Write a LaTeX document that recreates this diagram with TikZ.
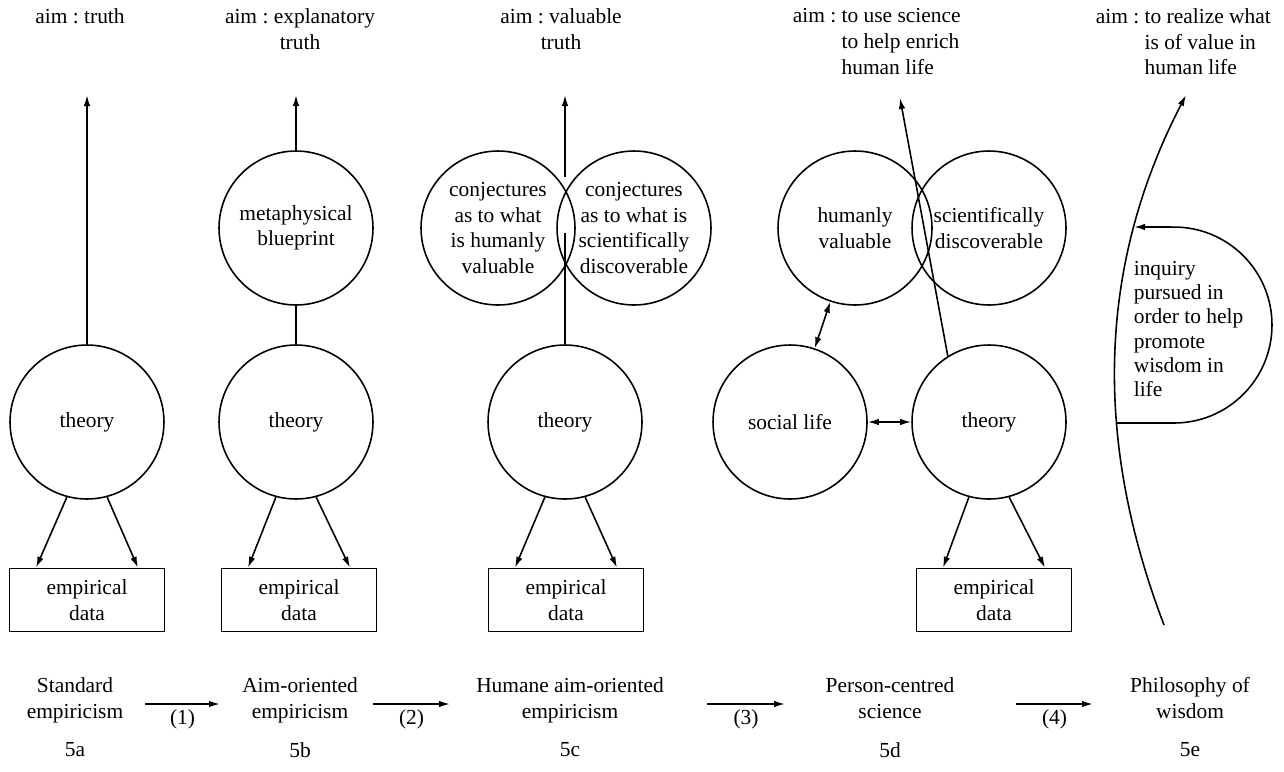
\documentclass[tikz,border=0pt]{standalone}
\usepackage{fontspec}
\setmainfont{Liberation Serif}
\usetikzlibrary{arrows.meta}

\begin{document}
\frenchspacing
\begin{tikzpicture}[x=0.02cm, y=-0.02cm, line width=0.9pt, >={Latex[length=2.2mm,width=1.3mm]},
    font=\fontsize{12.2}{14.6}\selectfont,
    ball/.style={draw, circle, minimum size=3.08cm, inner sep=0pt, align=center},
    databox/.style={draw, minimum width=3.1cm, minimum height=1.26cm, inner sep=0pt, align=center},
    aimtext/.style={anchor=north, inner sep=0pt, align=center},
    aimhang/.style={anchor=north west, inner sep=0pt, align=left}]
    \useasboundingbox (0,0) rectangle (1284,771);
    % theory and empirical data, 5a to 5d
    \foreach \id/\x/\bx in {A/87/87, B/296/299, C/565/566, D/989/994}{
        \node[ball] (th\id) at (\x,422) {theory};
        \node[databox] (box\id) at (\bx,600) {empirical\\data};
        \draw[->] (th\id.255) -- ([xshift=-1.02cm]box\id.north);
        \draw[->] (th\id.285) -- ([xshift=1.02cm]box\id.north);
    }
    % 5a
    \node[aimtext] (aimA) at (80,8) {aim : truth};
    \coordinate (tipA) at (87,95);
    \draw[->] (thA) -- (tipA);
    % 5b
    \node[aimtext] (aimB) at (300,8) {aim : explanatory\\truth};
    \node[ball] (mpB) at (296,228) {metaphysical\\blueprint};
    \coordinate (tipB) at (296,95);
    \draw (thB) -- (mpB);
    \draw[->] (mpB) -- (tipB);
    % 5c
    \node[aimtext] (aimC) at (561,8) {aim : valuable\\truth};
    \node[ball] (cvL) at (498,228) {conjectures\\as to what\\is humanly\\valuable};
    \node[ball] (cvR) at (634,228) {conjectures\\as to what is\\scientifically\\discoverable};
    \coordinate (gapC1) at (565,233);
    \coordinate (gapC2) at (565,177);
    \coordinate (tipC) at (565,95);
    \draw (thC) -- (gapC1);
    \draw[->] (gapC2) -- (tipC);
    % 5d
    \node[aimhang] (aimD) at (792,8) {aim : to use science\\\phantom{aim : }to help enrich\\\phantom{aim : }human life};
    \node[ball] (hum) at (855,228) {humanly\\valuable};
    \node[ball] (sci) at (989,228) {scientifically\\discoverable};
    \node[ball] (soc) at (790,422) {social life};
    \coordinate (tipD) at (900,98);
    \draw[<->] (soc) -- (hum);
    \draw[<->] (soc) -- (thD);
    \draw[->] (thD.122) -- (tipD);
    % 5e
    \node[aimhang] (aimE) at (1095,8) {aim : to realize what\\\phantom{aim : }is of value in\\\phantom{aim : }human life};
    \coordinate (wisB) at (1164,625);
    \coordinate (wisT) at (1186,95);
    \coordinate (dBot) at (1117,423);
    \coordinate (dTop) at (1134,227);
    \draw[->] (wisB) .. controls (1105,470) and (1085,290) .. (wisT);
    \draw[->] (dBot) -- (1174,423) arc[start angle=-90, end angle=90, radius=1.96cm] -- (dTop);
    \node[anchor=west, align=left, inner sep=0pt, font=\fontsize{12.2}{13.7}\selectfont] (inq) at (1133,329)
        {inquiry\\pursued in\\order to help\\promote\\wisdom in\\life};
    % stages along the bottom
    \foreach \id/\x/\name in {a/75/{Standard\\empiricism}, b/300/{Aim-oriented\\empiricism},
        c/570/{Humane aim-oriented\\empiricism}, d/890/{Person-centred\\science}, e/1190/{Philosophy of\\wisdom}}{
        \node[align=center, inner sep=0pt, anchor=north] (stage\id) at (\x,677) {\name};
        \node[inner sep=0pt] (num\id) at (\x,750) {5\id};
    }
    \foreach \i/\xa/\xb in {1/145/220, 2/373/450, 3/707/785, 4/1016/1093}{
        \coordinate (arS\i) at (\xa,704);
        \coordinate (arE\i) at (\xb,704);
        \draw[->] (arS\i) -- node[below=3pt, inner sep=0pt] {(\i)} (arE\i);
    }
\end{tikzpicture}
\end{document}
